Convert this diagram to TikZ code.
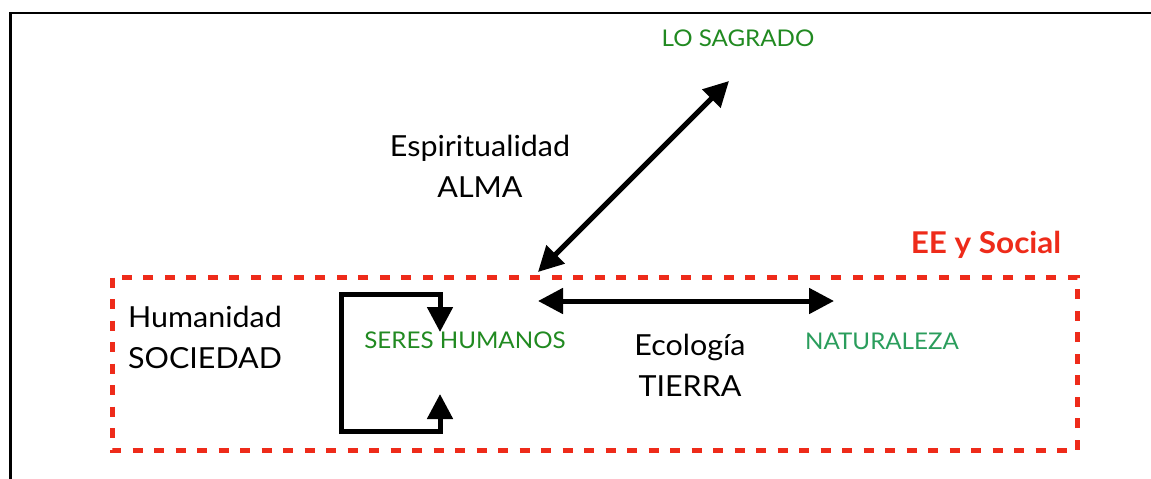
\documentclass[tikz,border=0pt]{standalone}
\usepackage{fontspec}
\setmainfont{Lato}[FakeStretch=1.05]
\usetikzlibrary{arrows.meta}
\definecolor{eered}{HTML}{EE2B1A}
\definecolor{sgreen}{HTML}{218A21}
\definecolor{ngreen}{HTML}{2A9D5C}
\tikzset{
  blk/.style={font=\fontsize{29}{41}\selectfont, text=black, align=center, inner sep=0pt},
  grn/.style={font=\fontsize{23}{25}\selectfont, text=sgreen, inner sep=0pt},
  conn/.style={line width=5pt, -{Triangle[length=25pt,width=25pt]}},
  dconn/.style={line width=5pt, {Triangle[length=25pt,width=25pt]}-{Triangle[length=25pt,width=25pt]}},
  eebox/.style={draw=eered, line width=5pt, dash pattern=on 10pt off 11.5pt},
}
\begin{document}
\begin{tikzpicture}[x=1pt,y=-1pt]
\useasboundingbox (0,0) rectangle (1151,479);
\fill[white] (0,0) rectangle (1151,479);
% outer frame
\draw[line width=2.5pt] (10.5,479) -- (10.5,13) -- (1151,13);
% red dashed box
\draw[eebox] (112,277.5) rectangle (1077.5,450.5);
\node[font=\fontsize{30}{34}\bfseries\selectfont, text=eered, inner sep=0pt] (ee) at (986,245) {EE y Social};
% texts
\node[grn] (sagrado) at (738,38) {LO SAGRADO};
\node[blk] (esp) at (480,166) {Espiritualidad\\ALMA};
\node[blk] (hum) at (205,337) {Humanidad\\SOCIEDAD};
\node[grn] (seres) at (465,340) {SERES HUMANOS};
\node[blk] (eco) at (690,365) {Ecología\\TIERRA};
\node[grn, text=ngreen] (nat) at (882,341) {NATURALEZA};
% connector end points
\coordinate (dA) at (538,272);
\coordinate (dB) at (729,81);
\coordinate (hA) at (538,301);
\coordinate (hB) at (834,301);
\coordinate (lt) at (440,332);
\coordinate (lb) at (440,394);
\draw[dconn] (dA) -- (dB);
\draw[dconn] (hA) -- (hB);
\draw[line width=5pt, line join=miter] (341.5,434) -- (341.5,294.5) -- (440,294.5);
\draw[conn] (440,292) -- (lt);
\draw[line width=5pt, line join=miter] (339,431.5) -- (440,431.5);
\draw[conn] (440,434) -- (lb);
\end{tikzpicture}
\end{document}
